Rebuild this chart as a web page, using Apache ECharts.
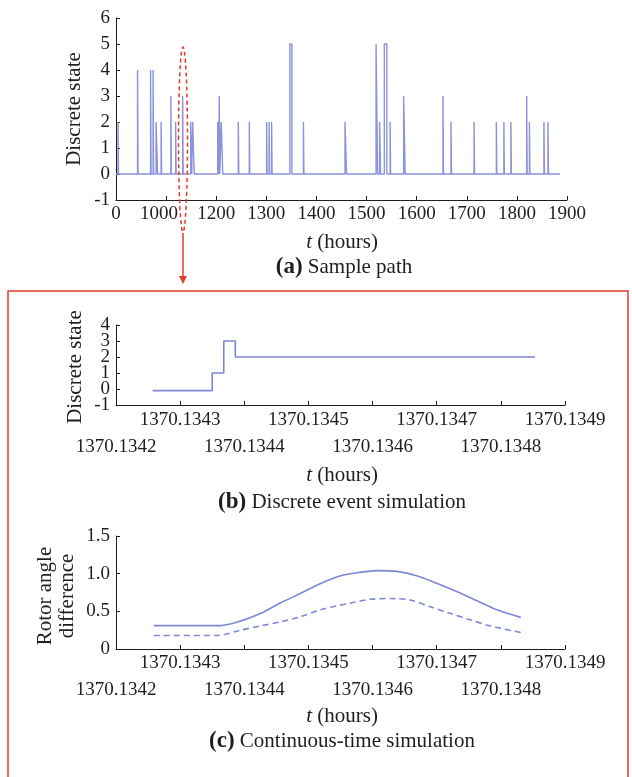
<!DOCTYPE html>
<html><head><meta charset="utf-8">
<script src="https://cdn.jsdelivr.net/npm/echarts@6/dist/echarts.min.js"></script>
<style>html,body{margin:0;padding:0;background:#fff}#c{width:632px;height:777px}</style>
</head><body><div id="c"></div>
<script>
// ---------- Panel (a): sample path ----------
const pathTickValues = [1000, 1100, 1200, 1300, 1400, 1500, 1600, 1700, 1800, 1900];
const pathTickLabels = ['0', '1000', '1200', '1300', '1400', '1500', '1600', '1700', '1800', '1900'];
const pathStart = 1000;
const pathEnd = 1886;
const spikeStart = [1004, 1043, 1069, 1074, 1080, 1090, 1109.5, 1119, 1133, 1149, 1153,
  1203, 1206, 1210, 1244, 1266, 1300.5, 1305.5, 1310.5, 1347, 1374,
  1457, 1519, 1526, 1535.5, 1547, 1574, 1652.5, 1668.5, 1714.5, 1759,
  1774, 1788, 1819.5, 1825, 1854, 1862];
const spikeLevel = [2, 4, 4, 4, 2, 2, 3, 2, 3, 2, 2,
  2, 3, 2, 2, 2, 2, 2, 2, 5, 2,
  2, 5, 2, 5, 2, 3, 3, 2, 2, 2,
  2, 2, 3, 2, 2, 2];
const spikeWidth = [1, 1, 1, 1, 3, 1, 1, 1, 1, 2, 3,
  2, 1, 3, 1, 1, 1, 1, 1, 4, 1,
  3, 3, 2, 5, 1, 3, 1, 1, 1, 1,
  1, 1, 1, 1, 1, 1];

// ---------- Panel (b): discrete event simulation ----------
const stateTicks = [-1, 0, 1, 2, 3, 4];
const eventTime = [1370.134257, 1370.13435, 1370.134368, 1370.134386, 1370.134853];
const eventState = [-0.1, 1, 3, 2, 2];

// ---------- Panel (c): continuous-time simulation ----------
const solidTime = [1370.134259, 1370.134363, 1370.134394, 1370.134425, 1370.134456, 1370.134488,
  1370.134519, 1370.134545, 1370.134566, 1370.134607, 1370.134638, 1370.13467, 1370.134701,
  1370.134732, 1370.134763, 1370.134794, 1370.134831];
const solidAngle = [0.31, 0.31, 0.37, 0.47, 0.61, 0.74, 0.87, 0.96, 1.0, 1.04, 1.03, 0.97,
  0.87, 0.76, 0.64, 0.52, 0.42];
const dashTime = [1370.134259, 1370.134358, 1370.134394, 1370.134425, 1370.134456, 1370.134488,
  1370.134519, 1370.134545, 1370.134566, 1370.134597, 1370.134628, 1370.134659, 1370.13469,
  1370.134722, 1370.134753, 1370.134784, 1370.134831];
const dashAngle = [0.18, 0.18, 0.25, 0.305, 0.36, 0.43, 0.52, 0.575, 0.61, 0.66, 0.67, 0.65,
  0.56, 0.47, 0.385, 0.305, 0.22];

const fineTickLabels = ['1370.1342', '1370.1343', '1370.1344', '1370.1345', '1370.1346', '1370.1347', '1370.1348', '1370.1349'];

// ---------- build ----------
const FONT = '"Liberation Serif", "Times New Roman", serif';
const LINE = '#7d87d8';
const INK = '#1e1e1e';

const pathPts = [[pathStart, 0]];
for (let i = 0; i < spikeStart.length; i++) {
  const s = spikeStart[i], v = spikeLevel[i], w = spikeWidth[i];
  pathPts.push([s, 0], [s, v], [s + w, v], [s + w, 0]);
}
pathPts.push([pathEnd, 0]);

const zip = (a, b) => a.map((x, i) => [x, b[i]]);

const axisBase = {
  axisLine: { show: true, onZero: false, lineStyle: { color: INK, width: 1 } },
  axisTick: { show: true, inside: true, length: 4, lineStyle: { color: INK } },
  splitLine: { show: false },
  axisLabel: { color: INK, fontFamily: FONT, fontSize: 19, hideOverlap: false, showMinLabel: true, showMaxLabel: true }
};

function fineXAxis(gridIndex, margin) {
  return Object.assign({}, axisBase, {
    type: 'value', gridIndex, min: 1370.1342, max: 1370.1349, interval: 0.0001,
    axisLabel: Object.assign({}, axisBase.axisLabel, {
      margin,
      formatter: function (v) {
        const idx = Math.round((v - 1370.1342) / 0.0001);
        const t = fineTickLabels[idx] || '';
        return idx % 2 === 0 ? '{lo|' + t + '}' : '{up|' + t + '}';
      },
      rich: {
        up: { fontFamily: FONT, fontSize: 19, color: INK },
        lo: { fontFamily: FONT, fontSize: 19, color: INK, padding: [27, 0, 0, 0] }
      }
    })
  });
}

function txt(x, y, text, extra) {
  return Object.assign({
    type: 'text', x, y, z: 100,
    style: Object.assign({
      text, fill: INK, font: '21px ' + FONT, align: 'center', verticalAlign: 'middle',
      rich: {
        b: { fontFamily: FONT, fontSize: 23, fontWeight: 'bold', fill: INK, color: INK },
        i: { fontFamily: FONT, fontSize: 21, fontStyle: 'italic', fill: INK, color: INK },
        n: { fontFamily: FONT, fontSize: 21, fill: INK, color: INK }
      }
    }, extra || {})
  });
}

const graphics = [
  // red annotation
  { type: 'ellipse', z: 100, shape: { cx: 183, cy: 139.5, rx: 4.5, ry: 92.5 },
    style: { fill: 'none', stroke: '#e4392c', lineWidth: 1.5, lineDash: [4, 3] } },
  { type: 'line', z: 100, shape: { x1: 183, y1: 233, x2: 183, y2: 278 },
    style: { stroke: '#e4392c', lineWidth: 1.5 } },
  { type: 'polygon', z: 100, shape: { points: [[179, 276], [187, 276], [183, 284]] },
    style: { fill: '#e4392c' } },
  { type: 'rect', z: 100, shape: { x: 8, y: 291, width: 620, height: 520 },
    style: { fill: 'none', stroke: '#e4392c', lineWidth: 1.5 } },
  // panel (a) texts
  Object.assign(txt(74, 109, 'Discrete state'), { rotation: Math.PI / 2 }),
  txt(342, 242, '{i|t}{n| (hours)}'),
  txt(344, 267, '{b|(a)}{n| Sample path}'),
  // panel (b) texts
  Object.assign(txt(75, 367, 'Discrete state'), { rotation: Math.PI / 2 }),
  txt(342, 475, '{i|t}{n| (hours)}'),
  txt(342, 502, '{b|(b)}{n| Discrete event simulation}'),
  // panel (c) texts
  Object.assign(txt(56, 596, 'Rotor angle\ndifference', { lineHeight: 22 }), { rotation: Math.PI / 2 }),
  txt(342, 716, '{i|t}{n| (hours)}'),
  txt(342, 741, '{b|(c)}{n| Continuous-time simulation}')
];

const chart = echarts.init(document.getElementById('c'), null, { renderer: 'canvas' });
chart.setOption({
  animation: false,
  backgroundColor: '#fff',
  grid: [
    { left: 116, top: 18, width: 451, height: 182 },
    { left: 116, top: 325, width: 449, height: 80 },
    { left: 116, top: 536, width: 449, height: 113 }
  ],
  xAxis: [
    Object.assign({}, axisBase, {
      type: 'value', gridIndex: 0, min: 1000, max: 1900, interval: 100,
      axisLabel: Object.assign({}, axisBase.axisLabel, {
        margin: 5,
        formatter: function (v) {
          const idx = pathTickValues.indexOf(Math.round(v));
          const t = pathTickLabels[idx];
          return idx === 1 ? '{sh|' + t + '}' : '{n|' + t + '}';
        },
        rich: {
          n: { fontFamily: FONT, fontSize: 19, color: INK },
          sh: { fontFamily: FONT, fontSize: 19, color: INK, padding: [0, 14, 0, 0] }
        }
      })
    }),
    fineXAxis(1, 6),
    fineXAxis(2, 5)
  ],
  yAxis: [
    Object.assign({}, axisBase, {
      type: 'value', gridIndex: 0, min: -1, max: 6, interval: 1,
      axisLabel: Object.assign({}, axisBase.axisLabel, { margin: 6 })
    }),
    Object.assign({}, axisBase, {
      type: 'value', gridIndex: 1, min: -1, max: 4, interval: 1,
      axisLabel: { show: false }
    }),
    Object.assign({}, axisBase, {
      type: 'value', gridIndex: 2, min: 0, max: 1.5, interval: 0.5,
      axisLabel: Object.assign({}, axisBase.axisLabel, {
        margin: 6, formatter: v => (v === 0 ? '0' : v.toFixed(1))
      })
    })
  ],
  series: [
    {
      type: 'line', xAxisIndex: 0, yAxisIndex: 0, data: pathPts, symbol: 'none',
      lineStyle: { color: '#8a93dc', width: 1.4 }, clip: false
    },
    {
      type: 'line', xAxisIndex: 1, yAxisIndex: 1, data: zip(eventTime, eventState), step: 'end',
      symbol: 'none', lineStyle: { color: LINE, width: 1.6 }
    },
    {
      type: 'line', xAxisIndex: 2, yAxisIndex: 2, data: zip(solidTime, solidAngle), smooth: 0.3,
      symbol: 'none', lineStyle: { color: LINE, width: 1.6 }
    },
    {
      type: 'line', xAxisIndex: 2, yAxisIndex: 2, data: zip(dashTime, dashAngle), smooth: 0.3,
      symbol: 'none', lineStyle: { color: LINE, width: 1.6, type: [6, 4] }
    }
  ],
  graphic: graphics
});

// y tick labels for panel (b), placed through the axis scale
const axisX = chart.convertToPixel({ xAxisIndex: 1 }, 1370.1342);
const tickLabelEls = stateTicks.map(v => ({
  type: 'text', z: 100,
  x: axisX - 6,
  y: chart.convertToPixel({ yAxisIndex: 1 }, v),
  style: { text: String(v), fill: INK, font: '19px ' + FONT, align: 'right', verticalAlign: 'middle' }
}));
chart.setOption({ graphic: graphics.concat(tickLabelEls) });
</script>
</body></html>
